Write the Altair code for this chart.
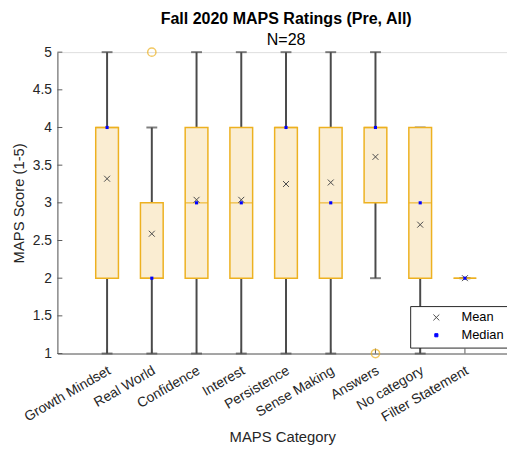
import altair as alt
import pandas as pd

categories = ["Growth Mindset", "Real World", "Confidence", "Interest", "Persistence",
              "Sense Making", "Answers", "No category", "Filter Statement"]
positions = [1, 2, 3, 4, 5, 6, 7, 8, 9]
q1 = [2, 2, 2, 2, 2, 2, 3, 2, 2]
q3 = [4, 3, 4, 4, 4, 4, 4, 4, 2]
medians = [4, 2, 3, 3, 4, 3, 4, 3, 2]
means = [3.32, 2.59, 3.04, 3.04, 3.25, 3.27, 3.61, 2.71, 2.0]
whisk_lo = [1, 1, 1, 1, 1, 1, 2, 1, 2]
whisk_hi = [5, 4, 5, 5, 5, 5, 5, 4, 2]
outlier_pos = [2, 7]
outlier_val = [5, 1]
ytick_values = [1, 1.5, 2, 2.5, 3, 3.5, 4, 4.5, 5]

FONT = "Liberation Sans"
ORANGE = "#EDB120"
FILL = "#FAEDD2"
GRAY = "#4a4a4a"
AXC = "#5a5a5a"
W, H = 455, 305

df = pd.DataFrame(dict(pos=positions, cat=categories, q1=q1, q3=q3, med=medians,
                       mean=means, lo=whisk_lo, hi=whisk_hi))
out_df = pd.DataFrame(dict(pos=outlier_pos, val=outlier_val))
yt_df = pd.DataFrame(dict(v=ytick_values))
stat_df = pd.concat([
    pd.DataFrame(dict(pos=positions, val=means, kind="Mean")),
    pd.DataFrame(dict(pos=positions, val=medians, kind="Median")),
])

xscale = alt.Scale(domain=[0, 9.83], nice=False, zero=False)
yscale = alt.Scale(domain=[1, 5], nice=False, zero=False)

labels_js = "[" + ",".join("'" + c + "'" for c in [""] + categories) + "]"
xaxis = alt.Axis(values=positions, labelExpr=labels_js + "[datum.value]",
                 labelAngle=-30, labelAlign="right", labelBaseline="middle",
                 labelOffset=2, labelPadding=16, ticks=False, grid=False,
                 labelOverlap=False, labelBound=False,
                 domainColor=AXC, labelColor="#262626", labelFontSize=14, labelFont=FONT,
                 title="MAPS Category", titleFont=FONT, titleFontSize=15,
                 titleFontWeight="normal", titleColor="#262626", titlePadding=6)
yaxis = alt.Axis(values=ytick_values, format="~g", ticks=False, grid=False,
                 domainColor=AXC, labelOverlap=False,
                 labelColor="#262626", labelFontSize=14, labelFont=FONT, labelPadding=6,
                 title="MAPS Score (1-5)", titleFont=FONT, titleFontSize=15,
                 titleFontWeight="normal", titleColor="#262626", titlePadding=6)


def X(field):
    return alt.X(field, scale=xscale, axis=xaxis, title="MAPS Category")


def Y(field):
    return alt.Y(field, scale=yscale, axis=yaxis, title="MAPS Score (1-5)")


base = alt.Chart(df)

ytick_layer = alt.Chart(yt_df).mark_rule(color=AXC, strokeWidth=1).encode(
    x=alt.value(0), x2=alt.value(5), y=Y("v:Q"))
xtick_layer = base.mark_rule(color=AXC, strokeWidth=1).encode(
    x=X("pos:Q"), y=alt.value(H), y2=alt.value(H - 5))

wl = base.mark_rule(color=GRAY, strokeWidth=2).encode(
    x=X("pos:Q"), y=Y("lo:Q"), y2="q1:Q")
wh = base.mark_rule(color=GRAY, strokeWidth=2).encode(
    x=X("pos:Q"), y=Y("q3:Q"), y2="hi:Q")
cap_lo = base.mark_tick(color=GRAY, orient="horizontal", size=11, thickness=2).encode(
    x=X("pos:Q"), y=Y("lo:Q"))
cap_hi = base.mark_tick(color=GRAY, orient="horizontal", size=11, thickness=2).encode(
    x=X("pos:Q"), y=Y("hi:Q"))

box = base.mark_bar(size=23, fill=FILL, stroke=ORANGE, strokeWidth=1.5).encode(
    x=X("pos:Q"), y=Y("q1:Q"), y2="q3:Q")
med_line = base.mark_tick(color=ORANGE, orient="horizontal", size=23, thickness=1.5).encode(
    x=X("pos:Q"), y=Y("med:Q"))

outl = alt.Chart(out_df).mark_point(shape="circle", filled=False, color=ORANGE,
                                    size=70, strokeWidth=1.5).encode(
    x=X("pos:Q"), y=Y("val:Q"))

kind_domain = ["Mean", "Median"]
shape_scale = alt.Scale(domain=kind_domain,
                        range=["M-1,-1L1,1M-1,1L1,-1", "square"])
color_scale = alt.Scale(domain=kind_domain, range=[GRAY, "#0000ff"])
size_scale = alt.Scale(domain=kind_domain, range=[36, 10])
legend = alt.Legend(title=None, orient="none", legendX=357, legendY=257,
                    strokeColor="#262626", fillColor="white", padding=5,
                    labelFont=FONT, labelFontSize=13, labelColor="#000000",
                    symbolOffset=15, labelOffset=19, rowPadding=4,
                    symbolStrokeWidth=1, symbolOpacity=1)

mean_layer = alt.Chart(stat_df).transform_filter("datum.kind == 'Mean'").mark_point(
    filled=False, strokeWidth=1, opacity=1).encode(
    x=X("pos:Q"), y=Y("val:Q"),
    shape=alt.Shape("kind:N", scale=shape_scale, legend=legend),
    color=alt.Color("kind:N", scale=color_scale, legend=legend),
    size=alt.Size("kind:N", scale=size_scale, legend=legend))
med_layer = alt.Chart(stat_df).transform_filter("datum.kind == 'Median'").mark_point(
    filled=True, opacity=1).encode(
    x=X("pos:Q"), y=Y("val:Q"),
    shape=alt.Shape("kind:N", scale=shape_scale, legend=legend),
    color=alt.Color("kind:N", scale=color_scale, legend=legend),
    size=alt.Size("kind:N", scale=size_scale, legend=legend))

chart = alt.layer(
    ytick_layer, xtick_layer, wl, wh, cap_lo, cap_hi, box, med_line,
    outl, mean_layer, med_layer
).properties(
    width=W, height=H,
    title=alt.TitleParams("Fall 2020 MAPS Ratings (Pre, All)", subtitle="N=28",
                          font=FONT, fontSize=16.2, fontWeight="bold", color="#000000",
                          subtitleFont=FONT, subtitleFontSize=16.2,
                          subtitleColor="#000000", subtitlePadding=5,
                          anchor="middle", frame="group", offset=-3, dx=4),
    autosize=alt.AutoSizeParams(type="none"),
    padding={"left": 50, "top": 42, "right": 0, "bottom": 98},
).configure_view(stroke=None).configure(background="white")

chart.save("out.html", embed_options={"renderer": "svg", "actions": False})
